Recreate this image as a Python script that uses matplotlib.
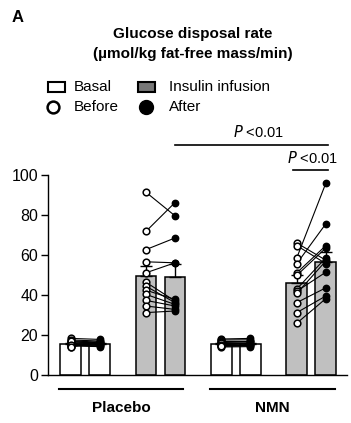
import numpy as np
import matplotlib.pyplot as plt
from matplotlib.patches import Rectangle

plt.rcParams['font.family'] = ['Liberation Sans', 'DejaVu Sans']

# 数据：均值、SEM、个体点
groups = ['Placebo', 'NMN']
basal_mean = [[15.3, 15.3], [15.5, 15.5]]        # [before, after]
basal_sem = [[0.6, 0.6], [0.6, 0.6]]
insulin_mean = [[49.7, 48.8], [45.8, 56.5]]
insulin_sem = [[4.8, 6.5], [4.0, 5.2]]

placebo_basal_before = [18.3, 17.5, 17.0, 16.5, 16.0, 15.5, 15.0, 14.5, 14.0, 16.8, 15.2, 14.2]
placebo_basal_after = [17.8, 17.0, 16.5, 16.0, 15.5, 15.0, 14.5, 14.2, 16.8, 15.8, 14.8, 16.2]
nmn_basal_before = [18.0, 17.5, 17.0, 16.5, 16.0, 15.5, 15.0, 14.5, 14.0, 16.2, 15.2, 14.3]
nmn_basal_after = [18.3, 17.6, 17.0, 16.4, 16.0, 15.6, 15.0, 14.6, 14.2, 16.8, 15.4, 14.8]

placebo_ins_before = [91.4, 71.8, 62.7, 56.6, 51.1, 46.4, 44.4, 42.4, 40.3, 37.3, 34.5, 31.2]
placebo_ins_after = [79.6, 86.2, 68.5, 56.1, 56.1, 37.0, 36.2, 37.8, 35.3, 34.5, 32.8, 32.0]
nmn_ins_before = [66.0, 64.7, 58.6, 55.7, 51.1, 49.8, 43.0, 41.9, 40.8, 36.2, 31.2, 25.9]
nmn_ins_after = [57.4, 55.7, 95.9, 75.6, 64.7, 63.5, 58.6, 51.4, 57.0, 43.6, 39.5, 38.2]

points = [[(placebo_basal_before, placebo_basal_after), (placebo_ins_before, placebo_ins_after)],
          [(nmn_basal_before, nmn_basal_after), (nmn_ins_before, nmn_ins_after)]]

# 版式
group_off = 5.2
cond_off = 2.6
width = 0.72
bar_gray = '#c0c0c0'

fig = plt.figure(figsize=(3.51, 4.23), dpi=100)
ax = fig.add_axes([48 / 351, 1 - 375 / 423, 299 / 351, 200 / 423])

for g in range(2):
    for c in range(2):
        means = basal_mean[g] if c == 0 else insulin_mean[g]
        sems = basal_sem[g] if c == 0 else insulin_sem[g]
        fc = 'white' if c == 0 else bar_gray
        xs = [g * group_off + c * cond_off + t for t in range(2)]
        ax.bar(xs, means, width=width, color=fc, edgecolor='black', linewidth=1.1, zorder=1)
        ax.errorbar(xs, means, yerr=[[0, 0], sems], fmt='none', ecolor='black',
                    elinewidth=1.0, capsize=4, capthick=1.0, zorder=2)
        before, after = points[g][c]
        for b, a in zip(before, after):
            ax.plot(xs, [b, a], color='black', lw=0.8, zorder=3)
        ax.plot([xs[0]] * len(before), before, 'o', ms=4.8, mfc='white', mec='black', mew=1.1, zorder=4)
        ax.plot([xs[1]] * len(after), after, 'o', ms=4.6, mfc='black', mec='black', zorder=4)

ax.set_xlim(-0.776, 9.53)
ax.set_ylim(0, 100)
ax.set_yticks([0, 20, 40, 60, 80, 100])
ax.set_xticks([])
ax.spines['top'].set_visible(False)
ax.spines['right'].set_visible(False)
ax.spines['left'].set_bounds(0, 100)
for s in ['left', 'bottom']:
    ax.spines[s].set_linewidth(1.0)
ax.tick_params(axis='y', length=5, width=1.0, labelsize=11.5, pad=2)

# 组标签下划线
ax.plot([-0.40, 3.88], [-7, -7], color='black', lw=1.5, clip_on=False)
ax.plot([4.81, 9.12], [-7, -7], color='black', lw=1.5, clip_on=False)
ax.text(1.74, -16.5, groups[0], ha='center', va='center', fontsize=11, fontweight='bold', clip_on=False)
ax.text(6.97, -16.5, groups[1], ha='center', va='center', fontsize=11, fontweight='bold', clip_on=False)

# 显著性
ax.plot([3.6, 8.88], [115, 115], color='black', lw=1.2, clip_on=False)
ax.text(6.47, 121.5, '$\\it{P}$ <0.01', ha='center', va='center', fontsize=10.5, clip_on=False)
ax.plot([7.67, 8.88], [102.5, 102.5], color='black', lw=1.2, clip_on=False)
ax.text(8.36, 108.5, '$\\it{P}$ <0.01', ha='center', va='center', fontsize=10.5, clip_on=False)

# 标题与图例（像素坐标覆盖层）
ov = fig.add_axes([0, 0, 1, 1], zorder=-1)
ov.set_xlim(0, 351)
ov.set_ylim(423, 0)
ov.axis('off')
ov.text(12, 17, 'A', ha='left', va='center', fontsize=12, fontweight='bold')
ov.text(193, 34, 'Glucose disposal rate', ha='center', va='center', fontsize=11, fontweight='bold')
ov.text(193, 54, '(µmol/kg fat-free mass/min)', ha='center', va='center', fontsize=11, fontweight='bold')
ov.add_patch(Rectangle((48, 82), 17, 10, facecolor='white', edgecolor='black', lw=1.5))
ov.add_patch(Rectangle((138, 82), 17, 10, facecolor='#777777', edgecolor='black', lw=1.5))
ov.plot([53], [107], 'o', ms=8.5, mfc='white', mec='black', mew=1.8)
ov.plot([146], [107], 'o', ms=10, mfc='black', mec='black')
ov.text(74, 87, 'Basal', ha='left', va='center', fontsize=11)
ov.text(169, 87, 'Insulin infusion', ha='left', va='center', fontsize=11)
ov.text(74, 107, 'Before', ha='left', va='center', fontsize=11)
ov.text(169, 107, 'After', ha='left', va='center', fontsize=11)

fig.savefig('out.png', dpi=100)
